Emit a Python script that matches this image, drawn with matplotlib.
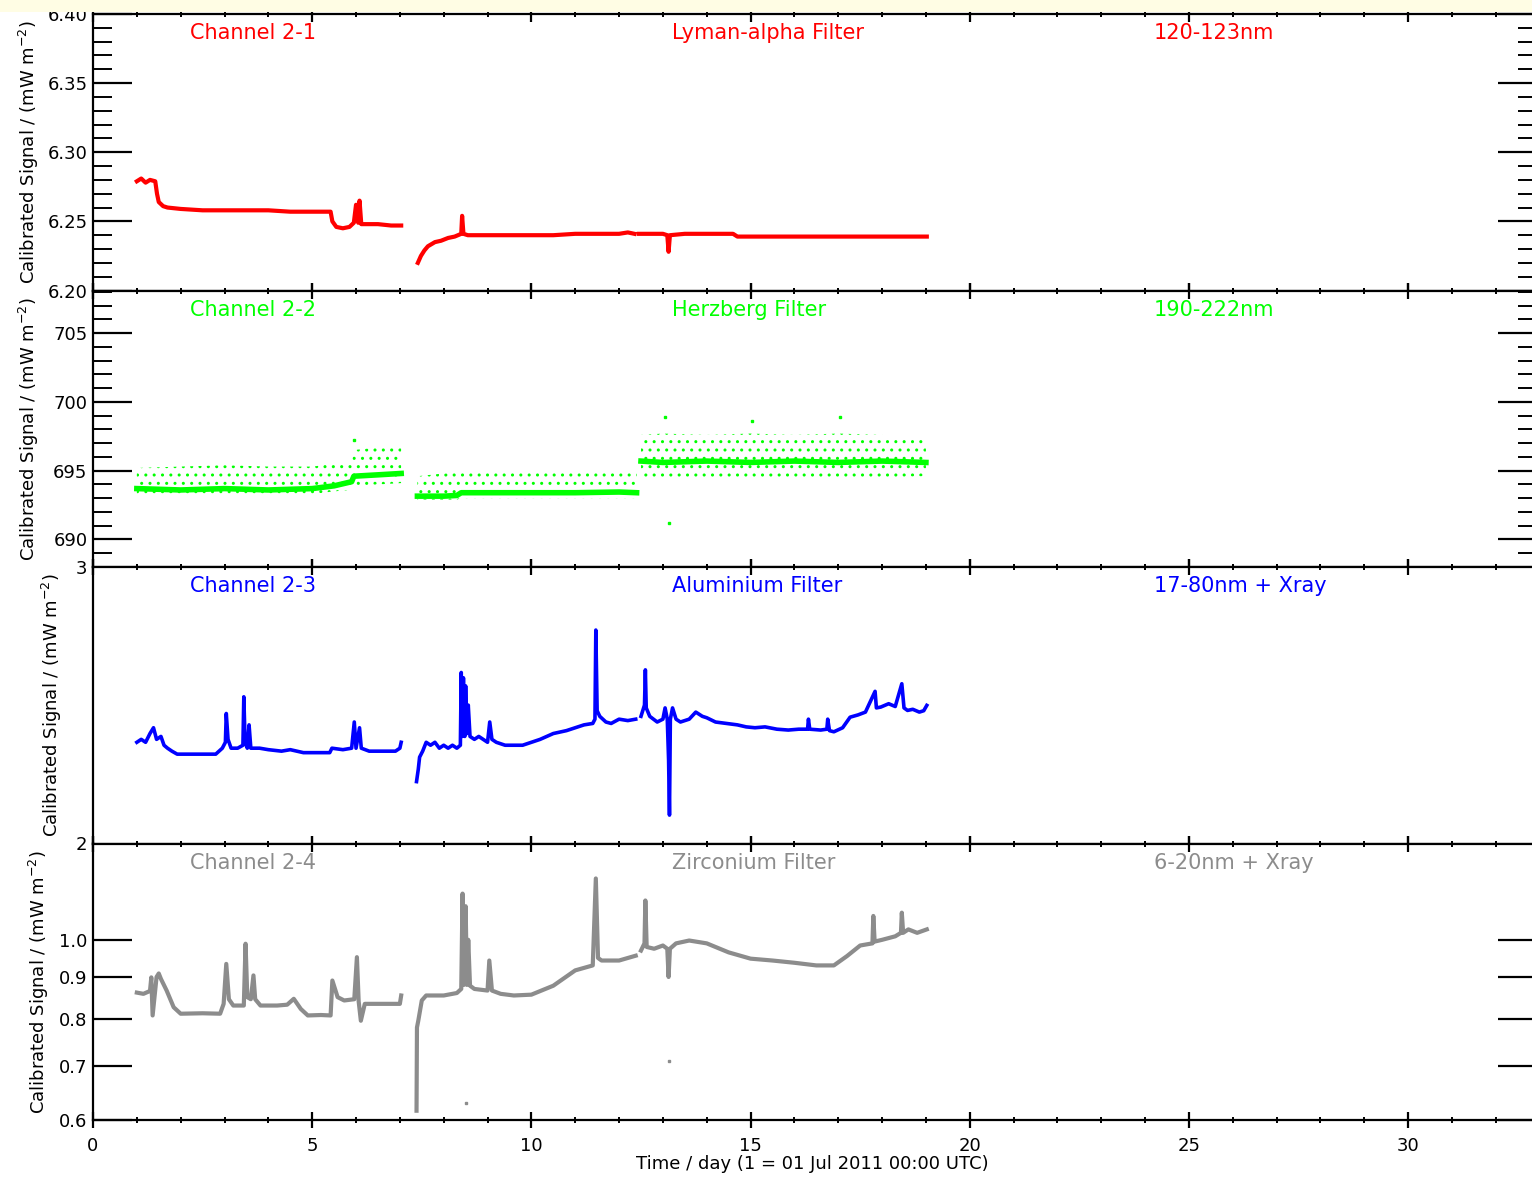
import numpy as np
import matplotlib
matplotlib.use("Agg")
import matplotlib.pyplot as plt
from matplotlib.ticker import MultipleLocator, NullLocator, FixedLocator, FixedFormatter
from matplotlib.patches import Rectangle

nan = float("nan")

# --- data (nan = data gap) ---
# Channel 2-1, Lyman-alpha
ch1_days = [1.0, 1.1, 1.2, 1.3, 1.42, 1.46, 1.5, 1.6, 1.7, 2.0, 2.5, 3.0, 3.5, 4.0, 4.5,
            5.0, 5.42, 5.46, 5.55, 5.7, 5.85, 5.95, 6.0, 6.05, 6.08, 6.12, 6.2, 6.5, 6.8, 7.03,
            nan,
            7.41, 7.48, 7.56, 7.64, 7.8, 7.94, 8.1, 8.25, 8.4, 8.42, 8.45, 8.55, 9.0, 9.5,
            10.0, 10.5, 11.0, 11.5, 12.0, 12.2, 12.35,
            nan,
            12.45, 13.0, 13.1, 13.13, 13.16, 13.5, 14.0, 14.6, 14.7, 15.5, 16.5, 17.5, 18.5, 19.02]
ch1_vals = [6.279, 6.281, 6.278, 6.280, 6.279, 6.270, 6.264, 6.261, 6.260, 6.259, 6.258, 6.258,
            6.258, 6.258, 6.257, 6.257, 6.257, 6.250, 6.246, 6.245, 6.246, 6.249, 6.262, 6.249,
            6.265, 6.248, 6.248, 6.248, 6.247, 6.247,
            nan,
            6.220, 6.225, 6.229, 6.232, 6.235, 6.236, 6.238, 6.239, 6.241, 6.254, 6.241, 6.240,
            6.240, 6.240, 6.240, 6.240, 6.241, 6.241, 6.241, 6.242, 6.241,
            nan,
            6.241, 6.241, 6.240, 6.228, 6.240, 6.241, 6.241, 6.241, 6.239, 6.239, 6.239, 6.239,
            6.239, 6.239]

# Channel 2-2, Herzberg: core level plus the spread of the scattered samples
ch2_days = [1.0, 2.0, 3.0, 4.0, 5.0, 5.5, 5.9, 5.95, 6.5, 7.03,
            nan,
            7.4, 8.0, 8.3, 8.4, 9.0, 10.0, 11.0, 12.0, 12.4,
            nan,
            12.5, 13.0, 14.0, 15.0, 16.0, 17.0, 18.0, 19.0]
ch2_core = [693.7, 693.6, 693.7, 693.6, 693.7, 693.9, 694.2, 694.6, 694.7, 694.8,
            nan,
            693.15, 693.15, 693.2, 693.4, 693.4, 693.4, 693.4, 693.45, 693.4,
            nan,
            695.7, 695.6, 695.7, 695.6, 695.7, 695.6, 695.7, 695.6]
ch2_upper = [695.2, 695.3, 695.4, 695.3, 695.3, 695.5, 695.6, 696.5, 696.7, 696.8,
             nan,
             694.6, 694.8, 694.9, 695.0, 695.1, 695.1, 695.1, 695.1, 695.0,
             nan,
             697.6, 697.7, 697.6, 697.7, 697.6, 697.7, 697.6, 697.4]
ch2_lower = [693.3, 693.2, 693.3, 693.3, 693.3, 693.5, 693.6, 693.9, 694.0, 694.1,
             nan,
             692.9, 692.9, 692.9, 693.0, 693.0, 693.0, 693.0, 693.0, 693.0,
             nan,
             694.5, 694.5, 694.5, 694.5, 694.5, 694.5, 694.5, 694.6]
ch2_out_days = [13.13, 13.05, 15.04, 17.05, 5.95]
ch2_out_vals = [691.2, 698.9, 698.6, 698.9, 697.2]

# Channel 2-3, Aluminium
ch3_days = [1.0, 1.1, 1.2, 1.3, 1.38, 1.45, 1.55, 1.62, 1.7, 1.8, 1.92, 2.2, 2.5, 2.8, 2.95,
            3.02, 3.04, 3.08, 3.15, 3.3, 3.42, 3.44, 3.47, 3.52, 3.56, 3.6, 3.8, 4.0, 4.3, 4.5,
            4.8, 5.0, 5.4, 5.45, 5.7, 5.9, 5.96, 6.0, 6.08, 6.12, 6.3, 6.6, 6.9, 7.0, 7.03,
            nan,
            7.38, 7.42, 7.45, 7.52, 7.6, 7.7, 7.8, 7.9, 8.0, 8.1, 8.2, 8.3, 8.38, 8.4, 8.42,
            8.45, 8.48, 8.5, 8.53, 8.56, 8.6, 8.7, 8.8, 9.0, 9.05, 9.1, 9.2, 9.4, 9.6, 9.8,
            10.0, 10.2, 10.5, 10.8, 11.0, 11.2, 11.4, 11.45, 11.47, 11.5, 11.56, 11.7, 11.82,
            12.0, 12.2, 12.38,
            nan,
            12.5, 12.58, 12.6, 12.62, 12.7, 12.87, 13.0, 13.05, 13.1, 13.13, 13.15, 13.17,
            13.22, 13.3, 13.4, 13.6, 13.75, 13.9, 14.0, 14.2, 14.45, 14.7, 14.9, 15.1, 15.33,
            15.6, 15.86, 16.1, 16.3, 16.32, 16.35, 16.6, 16.74, 16.76, 16.8, 16.9, 17.1,
            17.27, 17.45, 17.62, 17.84, 17.87, 17.97, 18.15, 18.3, 18.45, 18.5, 18.58, 18.7,
            18.85, 18.95, 19.02]
ch3_vals = [2.32, 2.33, 2.32, 2.35, 2.37, 2.33, 2.34, 2.31, 2.30, 2.29, 2.28, 2.28, 2.28, 2.28,
            2.30, 2.32, 2.42, 2.33, 2.30, 2.30, 2.31, 2.48, 2.32, 2.30, 2.38, 2.30, 2.30, 2.295,
            2.29, 2.295, 2.285, 2.285, 2.285, 2.30, 2.295, 2.30, 2.39, 2.30, 2.37, 2.30, 2.29,
            2.29, 2.29, 2.30, 2.32,
            nan,
            2.19, 2.23, 2.27, 2.29, 2.32, 2.31, 2.32, 2.30, 2.31, 2.30, 2.31, 2.30, 2.31, 2.57,
            2.34, 2.55, 2.34, 2.52, 2.35, 2.45, 2.34, 2.33, 2.34, 2.32, 2.39, 2.33, 2.32, 2.31,
            2.31, 2.31, 2.32, 2.33, 2.35, 2.36, 2.37, 2.38, 2.385, 2.40, 2.735, 2.43, 2.41,
            2.39, 2.385, 2.40, 2.395, 2.40,
            nan,
            2.41, 2.45, 2.58, 2.44, 2.41, 2.39, 2.40, 2.44, 2.40, 2.26, 2.085, 2.40, 2.44, 2.40,
            2.39, 2.40, 2.425, 2.41, 2.405, 2.39, 2.385, 2.38, 2.373, 2.37, 2.373, 2.365,
            2.362, 2.365, 2.365, 2.40, 2.365, 2.362, 2.365, 2.40, 2.36, 2.356, 2.37, 2.407,
            2.415, 2.425, 2.50, 2.44, 2.443, 2.455, 2.445, 2.528, 2.44, 2.431, 2.435, 2.425,
            2.43, 2.449]

# Channel 2-4, Zirconium
ch4_days = [1.0, 1.15, 1.3, 1.33, 1.36, 1.45, 1.5, 1.55, 1.68, 1.84, 2.0, 2.5, 2.9, 2.98,
            3.04, 3.1, 3.2, 3.44, 3.48, 3.52, 3.6, 3.66, 3.7, 3.82, 4.2, 4.43, 4.58, 4.74, 4.9,
            5.2, 5.42, 5.46, 5.58, 5.73, 5.96, 6.02, 6.06, 6.11, 6.2, 6.6, 7.0, 7.03,
            nan,
            7.38, 7.39, 7.42, 7.5, 7.6, 8.0, 8.3, 8.4, 8.43, 8.46, 8.5, 8.53, 8.56, 8.6, 8.7,
            9.0, 9.04, 9.1, 9.3, 9.6, 10.0, 10.5, 11.0, 11.4, 11.47, 11.52, 11.6, 12.0, 12.38,
            nan,
            12.5, 12.58, 12.6, 12.63, 12.8, 13.0, 13.1, 13.13, 13.16, 13.3, 13.6, 14.0, 14.5,
            15.0, 15.5, 16.0, 16.5, 16.9, 17.2, 17.5, 17.78, 17.8, 17.83, 18.0, 18.3, 18.43,
            18.45, 18.48, 18.6, 18.8, 19.02]
ch4_vals = [0.861, 0.858, 0.865, 0.899, 0.807, 0.900, 0.909, 0.895, 0.866, 0.826, 0.811, 0.812,
            0.811, 0.834, 0.934, 0.845, 0.830, 0.830, 0.989, 0.850, 0.845, 0.904, 0.845, 0.830,
            0.830, 0.832, 0.846, 0.822, 0.807, 0.808, 0.807, 0.891, 0.850, 0.842, 0.845, 0.952,
            0.840, 0.795, 0.834, 0.834, 0.834, 0.854,
            nan,
            0.616, 0.780, 0.795, 0.842, 0.854, 0.854, 0.860, 0.870, 1.140, 0.880, 1.100, 0.880,
            1.000, 0.878, 0.870, 0.866, 0.943, 0.866, 0.858, 0.854, 0.856, 0.878, 0.917, 0.930,
            1.190, 0.950, 0.943, 0.943, 0.956,
            nan,
            0.970, 0.990, 1.118, 0.980, 0.975, 0.984, 0.975, 0.900, 0.975, 0.990, 0.998, 0.990,
            0.965, 0.948, 0.943, 0.937, 0.930, 0.930, 0.955, 0.984, 0.990, 1.070, 0.995, 1.000,
            1.010, 1.020, 1.080, 1.020, 1.030, 1.020, 1.030]
ch4_out_days = [8.5, 13.13]
ch4_out_vals = [0.63, 0.71]

channel_names = ["Channel 2-1", "Channel 2-2", "Channel 2-3", "Channel 2-4"]
filter_names = ["Lyman-alpha Filter", "Herzberg Filter", "Aluminium Filter", "Zirconium Filter"]
band_names = ["120-123nm", "190-222nm", "17-80nm + Xray", "6-20nm + Xray"]
colors = ["#ff0000", "#00ff00", "#0000ff", "#8c8c8c"]

x_major = [0, 5, 10, 15, 20, 25, 30]
ch3_ticks = [2, 3]
ch4_ticks = [0.6, 0.7, 0.8, 0.9, 1.0]
ch4_ticklabels = ["0.6", "0.7", "0.8", "0.9", "1.0"]

# --- figure ---
W, H = 1532, 1178
fig = plt.figure(figsize=(W / 100, H / 100), dpi=100)
plt.rcParams["font.family"] = ["DejaVu Sans"]
plt.rcParams["hatch.linewidth"] = 1.0

# pale strip at the very top of the screenshot
fig.patches.append(Rectangle((0, 1 - 12 / H), 1, 12 / H, transform=fig.transFigure,
                             facecolor="#fffde4", edgecolor="none", zorder=0))

left = 93 / W
width = 1 - left + 0.003
tops = [14, 290.5, 567, 843.5]
ph = 276.5
axes = []
for i, t in enumerate(tops):
    b = 1 - (t + ph) / H
    ax = fig.add_axes([left, b, width, ph / H], sharex=axes[0] if axes else None)
    axes.append(ax)

ylab = "Calibrated Signal / (mW m$^{-2}$)"
label_x = [-0.036, -0.036, -0.020, -0.029]

for i, ax in enumerate(axes):
    for s in ax.spines.values():
        s.set_linewidth(1.6)
    ax.set_xlim(0, 32.93)
    ax.xaxis.set_major_locator(FixedLocator(x_major))
    ax.xaxis.set_minor_locator(MultipleLocator(1))
    ax.tick_params(axis="x", which="major", direction="inout", length=12, width=1.6,
                   top=True, bottom=True, labelbottom=(i == 3), labelsize=13, pad=6)
    ax.tick_params(axis="x", which="minor", direction="inout", length=5, width=1.4,
                   top=True, bottom=True)
    ax.tick_params(axis="y", which="major", direction="in", length=28, width=1.6,
                   left=True, right=True, labelsize=13, pad=4)
    ax.tick_params(axis="y", which="minor", direction="in", length=14, width=1.4,
                   left=True, right=True)
    ax.set_ylabel(ylab, fontsize=13)
    ax.yaxis.set_label_coords(label_x[i], 0.5)
    ax.text(2.22, 0.93, channel_names[i], color=colors[i], fontsize=15,
            transform=ax.get_xaxis_transform(), va="center", ha="left")
    ax.text(13.2, 0.93, filter_names[i], color=colors[i], fontsize=15,
            transform=ax.get_xaxis_transform(), va="center", ha="left")
    ax.text(24.2, 0.93, band_names[i], color=colors[i], fontsize=15,
            transform=ax.get_xaxis_transform(), va="center", ha="left")

# panel 1
ax = axes[0]
ax.plot(ch1_days, ch1_vals, color=colors[0], lw=3)
ax.set_ylim(6.20, 6.40)
ax.yaxis.set_major_locator(MultipleLocator(0.05))
ax.yaxis.set_minor_locator(MultipleLocator(0.01))
ax.yaxis.set_major_formatter(matplotlib.ticker.FormatStrFormatter("%.2f"))

# panel 2
ax = axes[1]
ax.fill_between(ch2_days, ch2_lower, ch2_upper, facecolor="none", edgecolor=colors[1],
                hatch="..", linewidth=0)
ax.plot(ch2_days, ch2_core, color=colors[1], lw=4)
ax.plot(ch2_out_days, ch2_out_vals, ls="none", marker="s", ms=1.8, color=colors[1])
ax.set_ylim(688, 708.1)
ax.yaxis.set_major_locator(FixedLocator([690, 695, 700, 705]))
ax.yaxis.set_minor_locator(MultipleLocator(1))

# panel 3
ax = axes[2]
ax.plot(ch3_days, ch3_vals, color=colors[2], lw=2.6)
ax.set_yscale("log")
ax.set_ylim(2, 3)
ax.yaxis.set_major_locator(FixedLocator(ch3_ticks))
ax.yaxis.set_major_formatter(FixedFormatter(["2", "3"]))
ax.yaxis.set_minor_locator(NullLocator())
ax.tick_params(axis="y", which="both", length=0, right=False)

# panel 4
ax = axes[3]
ax.plot(ch4_days, ch4_vals, color=colors[3], lw=3)
ax.plot(ch4_out_days, ch4_out_vals, ls="none", marker="s", ms=1.8, color=colors[3])
ax.set_yscale("log")
ax.set_ylim(0.6, 1.314)
ax.yaxis.set_major_locator(FixedLocator(ch4_ticks))
ax.yaxis.set_major_formatter(FixedFormatter(ch4_ticklabels))
ax.yaxis.set_minor_locator(NullLocator())
ax.set_xlabel("Time / day (1 = 01 Jul 2011 00:00 UTC)", fontsize=13)
ax.xaxis.set_label_coords((812 - 93) / (width * W), -0.125)

fig.savefig("out.png", dpi=100)
